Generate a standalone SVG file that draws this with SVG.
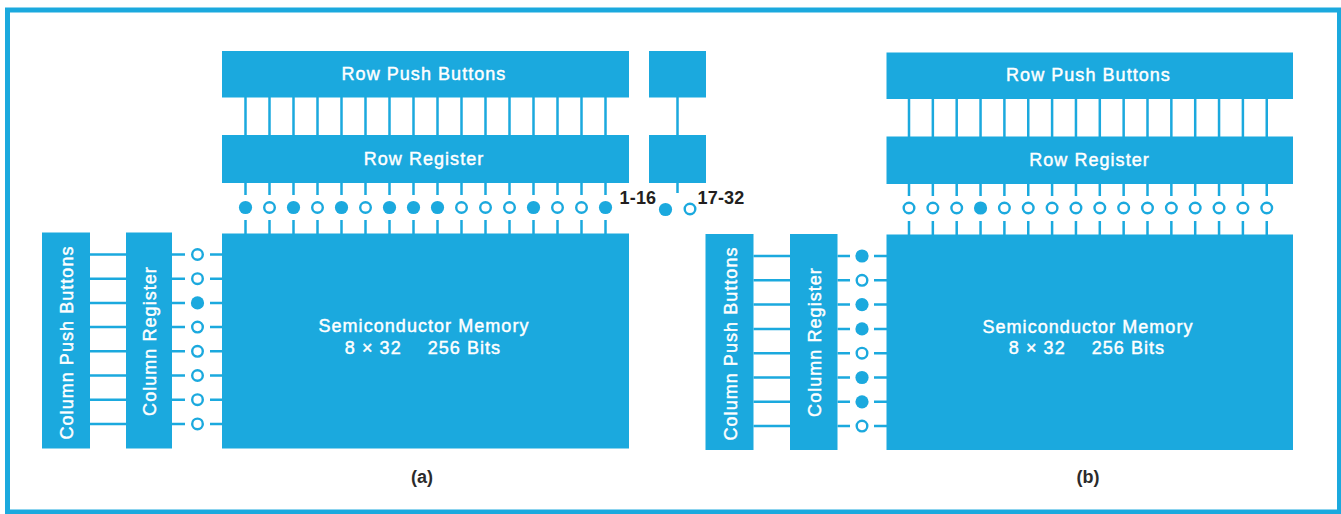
<svg xmlns="http://www.w3.org/2000/svg" width="1341" height="514" viewBox="0 0 1341 514">
<style>
.blk{fill:#1ba9de}
.lbl{font-family:"Liberation Sans",Arial,Helvetica,sans-serif;font-size:18px;fill:#ffffff;stroke:#ffffff;stroke-width:0.45px;letter-spacing:1.05px;text-anchor:middle}
.wire{stroke:#1ba9de;stroke-width:2.5;fill:none}
.on{fill:#1ba9de}
.off{fill:#ffffff;stroke:#1ba9de;stroke-width:2.4}
.num{font-family:"Liberation Sans",Arial,Helvetica,sans-serif;font-weight:bold;font-size:18px;fill:#231f20;letter-spacing:0.2px}
.cap{font-family:"Liberation Sans",Arial,Helvetica,sans-serif;font-weight:bold;font-size:18px;fill:#2b2b2b;text-anchor:middle}
.frame{fill:none;stroke:#1ba9de;stroke-width:5}
</style>
<rect class="frame" x="7.5" y="10" width="1332" height="502"/>

<!-- connectors -->
<g id="connectors">
<!-- (a) row push buttons to row register -->
<path class="wire" d="M245.5 97V135M269.5 97V135M293.5 97V135M317.5 97V135M341.5 97V135M365.5 97V135M389.5 97V135M413.5 97V135M437.5 97V135M461.5 97V135M485.5 97V135M509.5 97V135M533.5 97V135M557.5 97V135M581.5 97V135M605.5 97V135"/>
<!-- (a) row register stubs -->
<path class="wire" d="M245.5 183V195M269.5 183V195M293.5 183V195M317.5 183V195M341.5 183V195M365.5 183V195M389.5 183V195M413.5 183V195M437.5 183V195M461.5 183V195M485.5 183V195M509.5 183V195M533.5 183V195M557.5 183V195M581.5 183V195M605.5 183V195"/>
<path class="wire" d="M245.5 220V234M269.5 220V234M293.5 220V234M317.5 220V234M341.5 220V234M365.5 220V234M389.5 220V234M413.5 220V234M437.5 220V234M461.5 220V234M485.5 220V234M509.5 220V234M533.5 220V234M557.5 220V234M581.5 220V234M605.5 220V234"/>
<!-- (a) extension 17-32 -->
<path class="wire" d="M677.5 97V135M677.5 183V193"/>
<!-- (a) column push buttons to column register -->
<path class="wire" d="M90 254.5H126M90 278.7H126M90 302.9H126M90 327.1H126M90 351.3H126M90 375.5H126M90 399.7H126M90 423.9H126"/>
<path class="wire" d="M172 254.5H185M172 278.7H185M172 302.9H185M172 327.1H185M172 351.3H185M172 375.5H185M172 399.7H185M172 423.9H185"/>
<path class="wire" d="M210 254.5H222M210 278.7H222M210 302.9H222M210 327.1H222M210 351.3H222M210 375.5H222M210 399.7H222M210 423.9H222"/>

<!-- (b) row push buttons to row register -->
<path class="wire" d="M909 99V137M932.85 99V137M956.7 99V137M980.55 99V137M1004.4 99V137M1028.25 99V137M1052.1 99V137M1075.95 99V137M1099.8 99V137M1123.65 99V137M1147.5 99V137M1171.35 99V137M1195.2 99V137M1219.05 99V137M1242.9 99V137M1266.75 99V137"/>
<path class="wire" d="M909 184V196M932.85 184V196M956.7 184V196M980.55 184V196M1004.4 184V196M1028.25 184V196M1052.1 184V196M1075.95 184V196M1099.8 184V196M1123.65 184V196M1147.5 184V196M1171.35 184V196M1195.2 184V196M1219.05 184V196M1242.9 184V196M1266.75 184V196"/>
<path class="wire" d="M909 221V235M932.85 221V235M956.7 221V235M980.55 221V235M1004.4 221V235M1028.25 221V235M1052.1 221V235M1075.95 221V235M1099.8 221V235M1123.65 221V235M1147.5 221V235M1171.35 221V235M1195.2 221V235M1219.05 221V235M1242.9 221V235M1266.75 221V235"/>
<!-- (b) column -->
<path class="wire" d="M753.5 256H790M753.5 280.3H790M753.5 304.6H790M753.5 328.9H790M753.5 353.2H790M753.5 377.5H790M753.5 401.8H790M753.5 426.1H790"/>
<path class="wire" d="M837.5 256H850M837.5 280.3H850M837.5 304.6H850M837.5 328.9H850M837.5 353.2H850M837.5 377.5H850M837.5 401.8H850M837.5 426.1H850"/>
<path class="wire" d="M874 256H887M874 280.3H887M874 304.6H887M874 328.9H887M874 353.2H887M874 377.5H887M874 401.8H887M874 426.1H887"/>
</g>

<!-- ===== (a) ===== -->
<g id="a-row-push-buttons">
<rect class="blk" x="222" y="51" width="407" height="46.5"/>
<text class="lbl" x="424" y="80">Row Push Buttons</text>
</g>
<g id="a-row-register">
<rect class="blk" x="222" y="135" width="407" height="48"/>
<text class="lbl" x="424" y="164.5">Row Register</text>
</g>
<g id="a-ext-push-buttons">
<rect class="blk" x="649" y="51" width="57" height="46.5"/>
</g>
<g id="a-ext-register">
<rect class="blk" x="649" y="135" width="57" height="48"/>
</g>
<g id="a-memory">
<rect class="blk" x="222" y="233.5" width="407" height="215"/>
<text class="lbl" x="424" y="332">Semiconductor Memory</text>
<text class="lbl" x="423" y="353.5"><tspan>8 × 32</tspan><tspan dx="26">256 Bits</tspan></text>
</g>
<g id="a-column-push-buttons">
<rect class="blk" x="42" y="232.5" width="48" height="216"/>
<text class="lbl" transform="translate(73 342.5) rotate(-90)">Column Push Buttons</text>
</g>
<g id="a-column-register">
<rect class="blk" x="126" y="232.5" width="46" height="216"/>
<text class="lbl" transform="translate(155.5 341) rotate(-90)">Column Register</text>
</g>
<g id="a-row-bits">
<circle class="on" cx="245.5" cy="207.5" r="6.6"/>
<circle class="off" cx="269.5" cy="207.5" r="5.3"/>
<circle class="on" cx="293.5" cy="207.5" r="6.6"/>
<circle class="off" cx="317.5" cy="207.5" r="5.3"/>
<circle class="on" cx="341.5" cy="207.5" r="6.6"/>
<circle class="off" cx="365.5" cy="207.5" r="5.3"/>
<circle class="on" cx="389.5" cy="207.5" r="6.6"/>
<circle class="on" cx="413.5" cy="207.5" r="6.6"/>
<circle class="on" cx="437.5" cy="207.5" r="6.6"/>
<circle class="off" cx="461.5" cy="207.5" r="5.3"/>
<circle class="off" cx="485.5" cy="207.5" r="5.3"/>
<circle class="off" cx="509.5" cy="207.5" r="5.3"/>
<circle class="on" cx="533.5" cy="207.5" r="6.6"/>
<circle class="off" cx="557.5" cy="207.5" r="5.3"/>
<circle class="off" cx="581.5" cy="207.5" r="5.3"/>
<circle class="on" cx="605.5" cy="207.5" r="6.6"/>
<circle class="on" cx="665.5" cy="209.5" r="6.6"/>
<circle class="off" cx="690" cy="209" r="5.3"/>
</g>
<g id="a-column-bits">
<circle class="off" cx="197.5" cy="254.5" r="5.3"/>
<circle class="off" cx="197.5" cy="278.7" r="5.3"/>
<circle class="on" cx="197.5" cy="302.9" r="6.6"/>
<circle class="off" cx="197.5" cy="327.1" r="5.3"/>
<circle class="off" cx="197.5" cy="351.3" r="5.3"/>
<circle class="off" cx="197.5" cy="375.5" r="5.3"/>
<circle class="off" cx="197.5" cy="399.7" r="5.3"/>
<circle class="off" cx="197.5" cy="423.9" r="5.3"/>
</g>
<g id="a-labels">
<text class="num" x="619.5" y="204">1-16</text>
<text class="num" x="697.5" y="204">17-32</text>
<text class="cap" x="422" y="483">(a)</text>
</g>

<!-- ===== (b) ===== -->
<g id="b-row-push-buttons">
<rect class="blk" x="886.5" y="52.5" width="406.5" height="46.5"/>
<text class="lbl" x="1088.5" y="81">Row Push Buttons</text>
</g>
<g id="b-row-register">
<rect class="blk" x="886.5" y="136.5" width="406.5" height="47.5"/>
<text class="lbl" x="1089.5" y="165.5">Row Register</text>
</g>
<g id="b-memory">
<rect class="blk" x="886.5" y="234.5" width="406.5" height="215.5"/>
<text class="lbl" x="1088" y="332.5">Semiconductor Memory</text>
<text class="lbl" x="1087" y="354"><tspan>8 × 32</tspan><tspan dx="26">256 Bits</tspan></text>
</g>
<g id="b-column-push-buttons">
<rect class="blk" x="705.5" y="234" width="48" height="216"/>
<text class="lbl" transform="translate(737 343.5) rotate(-90)">Column Push Buttons</text>
</g>
<g id="b-column-register">
<rect class="blk" x="790" y="234" width="47.5" height="216"/>
<text class="lbl" transform="translate(820.5 342) rotate(-90)">Column Register</text>
</g>
<g id="b-row-bits">
<circle class="off" cx="909" cy="208" r="5.3"/>
<circle class="off" cx="932.85" cy="208" r="5.3"/>
<circle class="off" cx="956.7" cy="208" r="5.3"/>
<circle class="on" cx="980.55" cy="208" r="6.6"/>
<circle class="off" cx="1004.4" cy="208" r="5.3"/>
<circle class="off" cx="1028.25" cy="208" r="5.3"/>
<circle class="off" cx="1052.1" cy="208" r="5.3"/>
<circle class="off" cx="1075.95" cy="208" r="5.3"/>
<circle class="off" cx="1099.8" cy="208" r="5.3"/>
<circle class="off" cx="1123.65" cy="208" r="5.3"/>
<circle class="off" cx="1147.5" cy="208" r="5.3"/>
<circle class="off" cx="1171.35" cy="208" r="5.3"/>
<circle class="off" cx="1195.2" cy="208" r="5.3"/>
<circle class="off" cx="1219.05" cy="208" r="5.3"/>
<circle class="off" cx="1242.9" cy="208" r="5.3"/>
<circle class="off" cx="1266.75" cy="208" r="5.3"/>
</g>
<g id="b-column-bits">
<circle class="on" cx="862" cy="256" r="6.6"/>
<circle class="off" cx="862" cy="280.3" r="5.3"/>
<circle class="on" cx="862" cy="304.6" r="6.6"/>
<circle class="on" cx="862" cy="328.9" r="6.6"/>
<circle class="off" cx="862" cy="353.2" r="5.3"/>
<circle class="on" cx="862" cy="377.5" r="6.6"/>
<circle class="on" cx="862" cy="401.8" r="6.6"/>
<circle class="off" cx="862" cy="426.1" r="5.3"/>
</g>
<g id="b-labels">
<text class="cap" x="1088" y="483">(b)</text>
</g>
</svg>
